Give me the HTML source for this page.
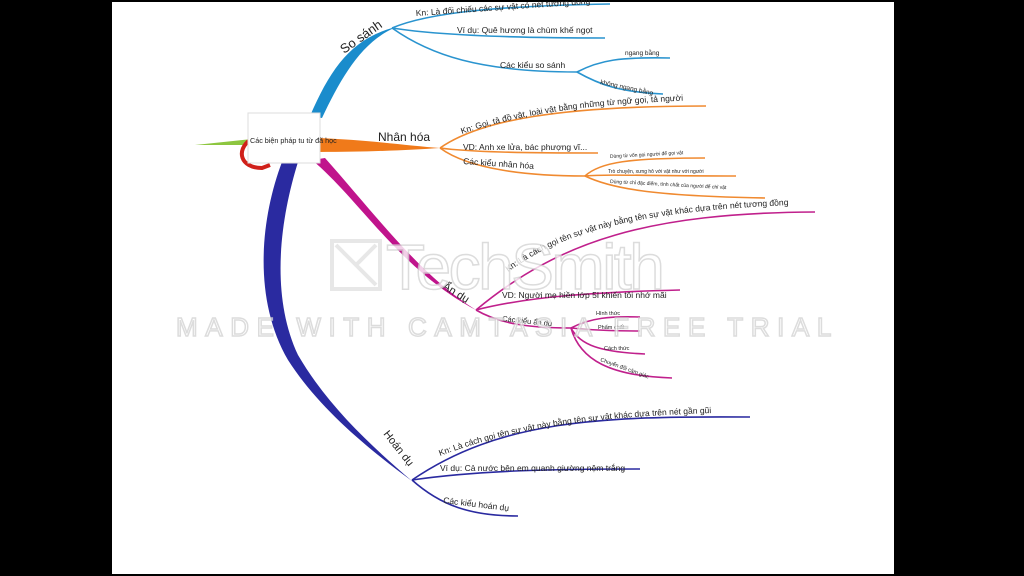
<!DOCTYPE html>
<html><head><meta charset="utf-8"><style>
html,body{margin:0;padding:0;background:#000;}
svg{display:block}
text{font-family:"Liberation Sans",sans-serif;fill:#222;}
</style></head><body>
<svg width="1024" height="576" viewBox="0 0 1024 576" xmlns="http://www.w3.org/2000/svg">
<defs>
<path id="anKn" d="M508,272 C568,228 650,209 818,204"/>
<path id="nhKn" d="M462,134 C520,114 590,103 706,100"/>
<path id="hdKn" d="M440,456 C520,426 600,415 752,412"/>
</defs>
<rect x="0" y="0" width="1024" height="576" fill="#000"/>
<rect x="112" y="2" width="782" height="572" fill="#fff"/>

<path d="M195,145 L252,139 L252,145 Z" fill="#8dc63f"/>
<path d="M250,140 C236,150 240,168 262,168 L270,165" fill="none" stroke="#d0201a" stroke-width="4"/>
<path d="M255,146 C248,156 255,164 272,160" fill="none" stroke="#4ab8e8" stroke-width="3"/>

<!-- So sanh -->
<path d="M310,116 C330,70 350,40 392,28 L392,29 C360,44 340,80 322,118 Z" fill="#1a8ccc"/>
<g fill="none" stroke="#2a94cf" stroke-width="1.6">
<path d="M392,28 C430,12 500,6 610,4"/>
<path d="M392,28 C430,34 500,38 605,38"/>
<path d="M392,28 C430,55 480,72 577,72"/>
<path d="M577,72 C600,60 620,57 670,58"/>
<path d="M577,72 C600,85 620,92 663,94"/>
</g>
<text x="344" y="54" font-size="13" transform="rotate(-35 344 54)">So sánh</text>
<text x="416" y="16" font-size="8.5" transform="rotate(-4 416 16)">Kn: Là đối chiếu các sự vật có nét tương đồng</text>
<text x="457" y="33" font-size="8.5">Ví dụ: Quê hương là chùm khế ngọt</text>
<text x="500" y="68" font-size="8.5">Các kiểu so sánh</text>
<text x="625" y="55" font-size="6.5">ngang bằng</text>
<text x="600" y="84" font-size="6.5" transform="rotate(12 600 84)">không ngang bằng</text>

<!-- Nhan hoa -->
<path d="M318,138 C370,140 410,146 440,148 C410,150 370,152 318,152 Z" fill="#f07a1a"/>
<g fill="none" stroke="#f08a30" stroke-width="1.6">
<path d="M440,148 C480,120 560,106 706,106"/>
<path d="M440,148 C470,152 520,153 598,153"/>
<path d="M440,148 C470,170 530,176 585,176"/>
<path d="M585,176 C600,162 630,158 705,158"/>
<path d="M585,176 C610,174 650,176 736,176"/>
<path d="M585,176 C610,188 650,196 765,198"/>
</g>
<text x="378" y="141" font-size="12">Nhân hóa</text>
<text font-size="8.5"><textPath href="#nhKn">Kn: Gọi, tả đồ vật, loài vật bằng những từ ngữ gọi, tả người</textPath></text>
<text x="463" y="150" font-size="8.5">VD: Anh xe lửa, bác phượng vĩ...</text>
<text x="463" y="164" font-size="8.5" transform="rotate(4 463 164)">Các kiểu nhân hóa</text>
<text x="610" y="158" font-size="5" transform="rotate(-3 610 158)">Dùng từ vốn gọi người để gọi vật</text>
<text x="608" y="173" font-size="5">Trò chuyện, xưng hô với vật như với người</text>
<text x="610" y="183" font-size="5" transform="rotate(3 610 183)">Dùng từ chỉ đặc điểm, tính chất của người để chỉ vật</text>

<!-- An du -->
<path d="M312,160 C360,200 400,270 476,310 C420,275 380,220 325,158 Z" fill="#c0148c"/>
<g fill="none" stroke="#c0208c" stroke-width="1.6">
<path d="M476,310 C560,240 650,213 815,212"/>
<path d="M476,310 C530,296 600,292 680,290"/>
<path d="M476,310 C500,324 530,328 571,328"/>
<path d="M571,328 C590,318 610,316 640,317"/>
<path d="M571,328 C590,330 610,331 640,331"/>
<path d="M571,328 C580,345 600,352 645,354"/>
<path d="M571,328 C580,360 610,376 672,378"/>
</g>
<text x="442" y="288" font-size="11" transform="rotate(32 442 288)">Ẩn dụ</text>
<text font-size="8.5"><textPath href="#anKn">Kn: Là cách gọi tên sự vật này bằng tên sự vật khác dựa trên nét tương đồng</textPath></text>
<text x="502" y="298" font-size="8.5">VD: Người mẹ hiền lớp 5I khiến tôi nhớ mãi</text>
<text x="502" y="321" font-size="7.5" transform="rotate(6 502 321)">Các kiểu ẩn dụ</text>
<text x="596" y="315" font-size="5.5">Hình thức</text>
<text x="598" y="329" font-size="5.5">Phẩm chất</text>
<text x="604" y="350" font-size="5.5">Cách thức</text>
<text x="600" y="361" font-size="5.5" transform="rotate(20 600 361)">Chuyển đổi cảm giác</text>

<!-- Hoan du -->
<path d="M282,162 C260,220 253,300 288,360 C320,410 370,450 412,481 C370,445 327,405 298,355 C270,295 280,220 298,162 Z" fill="#2a2aa0"/>
<g fill="none" stroke="#2a2aa0" stroke-width="1.6">
<path d="M412,480 C500,420 600,416 750,417"/>
<path d="M412,480 C480,470 560,469 640,469"/>
<path d="M412,480 C440,505 470,516 518,516"/>
</g>
<text x="383" y="434" font-size="11" transform="rotate(52 383 434)">Hoán dụ</text>
<text font-size="8.5"><textPath href="#hdKn">Kn: Là cách gọi tên sự vật này bằng tên sự vật khác dựa trên nét gần gũi</textPath></text>
<text x="440" y="471" font-size="8.5">Ví dụ: Cả nước bên em quanh giường nệm trắng</text>
<text x="443" y="503" font-size="8.5" transform="rotate(7 443 503)">Các kiểu hoán dụ</text>

<rect x="248" y="113" width="72" height="50" fill="#fff" stroke="#ddd" stroke-width="1"/>
<text x="250" y="143" font-size="7.2">Các biện pháp tu từ đã học</text>

<g opacity="0.8">
<rect x="332" y="241" width="48" height="48" fill="none" stroke="#e2e2e2" stroke-width="4"/>
<path d="M336,245 L376,285 M376,245 L356,265" stroke="#e2e2e2" stroke-width="4"/>
<text x="386" y="289" font-size="64" style="fill:#fff;stroke:#d4d4d4;stroke-width:1.5" letter-spacing="-2.5">TechSmith</text>
<text x="176" y="336" font-size="26" style="fill:#fff;stroke:#d4d4d4;stroke-width:1.5" letter-spacing="7.6">MADE WITH CAMTASIA FREE TRIAL</text>
</g>
</svg>
</body></html>
